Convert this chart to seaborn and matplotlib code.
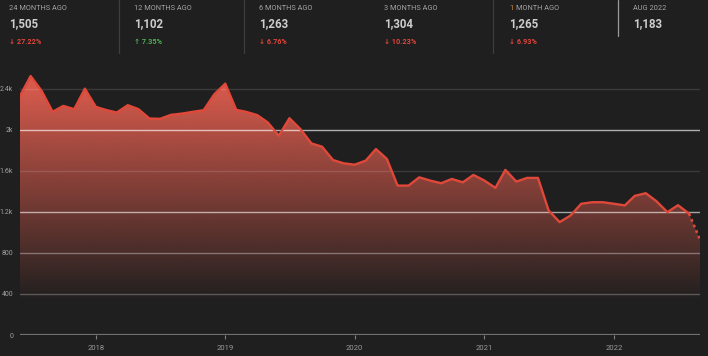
import numpy as np
import pandas as pd
import matplotlib
matplotlib.use("Agg")
import matplotlib.pyplot as plt
import matplotlib.dates as mdates
from matplotlib.patches import PathPatch
import seaborn as sns

# ---- data ----
start_month = "2017-06-01"
values = [2330, 2524, 2379, 2175, 2233, 2201, 2401, 2223, 2191, 2168,
          2240, 2201, 2110, 2107, 2146, 2158, 2175, 2191, 2346, 2450,
          2194, 2175, 2143, 2071, 1942, 2113, 2006, 1867, 1835, 1705,
          1673, 1660, 1699, 1812, 1715, 1456, 1456, 1537, 1505, 1479,
          1521, 1488, 1560, 1505, 1434, 1609, 1495, 1531, 1531, 1214,
          1100, 1165, 1279, 1294, 1294, 1279, 1263, 1356, 1382, 1304,
          1197, 1265, 1183, 930]
header_labels = ["24 MONTHS AGO", "12 MONTHS AGO", "6 MONTHS AGO",
                 "3 MONTHS AGO", "1 MONTH AGO", "AUG 2022"]
header_values = ["1,505", "1,102", "1,263", "1,304", "1,265", "1,183"]
header_changes = ["27.22%", "7.35%", "6.76%", "10.23%", "6.93%", None]
header_up = [False, True, False, False, False, None]
ytick_vals = [0, 400, 800, 1200, 1600, 2000, 2400]
ytick_labels = ["0", "400", "800", "1.2k", "1.6k", "2k", "2.4k"]
year_ticks = ["2018", "2019", "2020", "2021", "2022"]

dates = pd.date_range(start_month, periods=len(values), freq="MS")
df = pd.DataFrame({"date": dates, "value": values})

BG = "#1f1f1f"
W, H = 708, 356
sns.set_theme(style="dark")
plt.rcParams["font.family"] = ["Roboto", "DejaVu Sans"]

fig = plt.figure(figsize=(W / 100, H / 100), dpi=100, facecolor=BG)

def fx(px):
    return px / W

def fy(py):
    return 1 - py / H

YTOP = 2650
ax = fig.add_axes([fx(20), fy(335), fx(680), (335 - 63.1) / H])
ax.set_facecolor(BG)

# ---- gradient fill ----
xnum = mdates.date2num(df["date"])
xmin, xmax = xnum[0], xnum[-1]
poly = ax.fill_between(xnum, df["value"], 0, color="none", lw=0)
path = poly.get_paths()[0]
patch = PathPatch(path, transform=ax.transData, facecolor="none", edgecolor="none")
ax.add_patch(patch)
n = 400
vv = np.linspace(0, YTOP, n)
alpha = np.clip((vv - 320) / 2080, 0, 1)
grad = np.zeros((n, 2, 4))
grad[..., 0] = 214 / 255
grad[..., 1] = 90 / 255
grad[..., 2] = 76 / 255
grad[..., 3] = alpha[:, None]
im = ax.imshow(grad, extent=[xmin, xmax, 0, YTOP], origin="lower",
               aspect="auto", zorder=1, interpolation="bilinear")
im.set_clip_path(patch)

# ---- grid lines ----
grid_alpha = {400: 0.26, 800: 0.35, 1200: 0.6, 1600: 0.12, 2000: 0.65, 2400: 0.12}
for v, a in grid_alpha.items():
    ax.axhline(v, color="white", alpha=a, lw=1.0, zorder=2)
ax.axhline(0, color="#707070", lw=1.6, zorder=2)

# ---- line ----
solid = df.iloc[:-1]
dotted = df.iloc[-2:]
sns.lineplot(data=solid, x="date", y="value", ax=ax, color="#e0483a",
             lw=1.7, zorder=3, legend=False)
sns.lineplot(data=dotted, x="date", y="value", ax=ax, color="#e0483a",
             lw=1.9, zorder=3, legend=False, linestyle=(0, (1, 1.3)))

ax.set_xlim(xmin, mdates.date2num(pd.Timestamp("2022-09-01")))
ax.set_ylim(0, YTOP)
for s in ax.spines.values():
    s.set_visible(False)
ax.grid(False)
ax.set_xlabel("")
ax.set_ylabel("")
ax.set_yticks(ytick_vals)
ax.set_yticklabels(ytick_labels)
ax.set_xticks([mdates.date2num(pd.Timestamp(f"{y}-01-01")) for y in year_ticks])
ax.set_xticklabels(year_ticks)
ax.tick_params(axis="y", length=0, pad=5, labelsize=5, labelcolor="#a0a0a0")
ax.tick_params(axis="x", length=3, width=0.8, color="#808080", direction="out",
               pad=4, labelsize=5.5, labelcolor="#9a9a9a", bottom=True)

# ---- header ----
renderer = fig.canvas.get_renderer()
col_x = [9, 134, 259, 384, 509, 633]
for i, (lab, val, ch, up) in enumerate(zip(header_labels, header_values,
                                          header_changes, header_up)):
    x = fx(col_x[i])
    if lab.startswith("1 "):
        # leading "1" shown in orange, rest in grey
        t1 = fig.text(x, fy(9), "1", color="#d08a3a", fontsize=5.3,
                      va="center", ha="left")
        bb = t1.get_window_extent(renderer)
        fig.text(fx(bb.x1 + 2.6), fy(9), lab[2:], color="#a4a4a4",
                 fontsize=5.3, va="center", ha="left")
    else:
        fig.text(x, fy(9), lab, color="#a4a4a4", fontsize=5.3,
                 va="center", ha="left")
    fig.text(x, fy(24), val, color="#cdcdcd", fontsize=8.3, fontweight="bold",
             va="center", ha="left")
    if ch is not None:
        col = "#4caf50" if up else "#e0453b"
        arrow = "\u2191" if up else "\u2193"
        fig.text(x, fy(42), f"{arrow} {ch}", color=col, fontsize=5.2,
                 fontweight="bold", va="center", ha="left")

# separators
for sx, y1, c in [(119, 53, "#3e3e3e"), (244, 53, "#3e3e3e"),
                  (493, 53, "#3e3e3e"), (618, 36, "#9a9a9a")]:
    fig.add_artist(plt.Line2D([fx(sx), fx(sx)], [fy(0), fy(y1)],
                              color=c, lw=0.9, transform=fig.transFigure))

fig.savefig("out.png", dpi=100, facecolor=BG)
